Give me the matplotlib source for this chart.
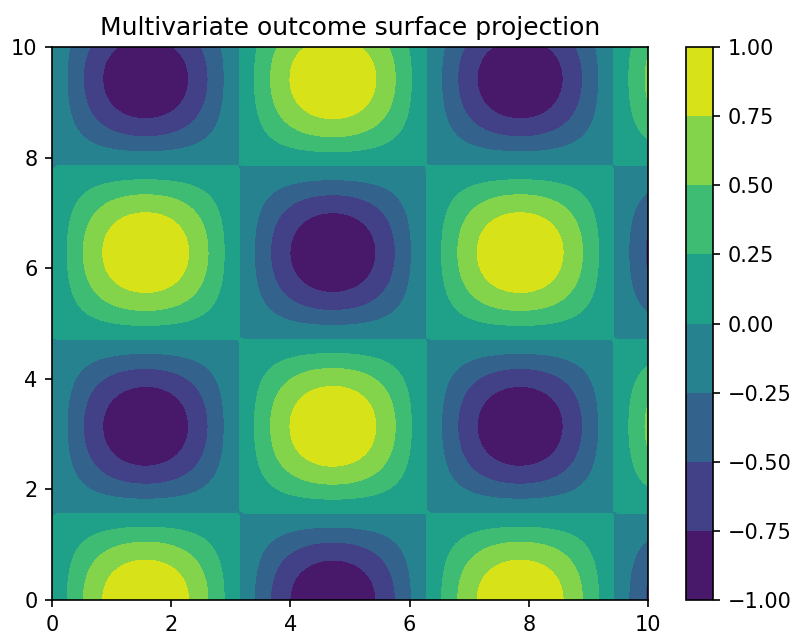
import numpy as np
import matplotlib
matplotlib.use("Agg")
import matplotlib.pyplot as plt

# surface: z = sin(x) * cos(y) on a 100 x 100 grid
x_values = np.linspace(0, 10, 100)
y_values = np.linspace(0, 10, 100)
levels = [-1.0, -0.75, -0.5, -0.25, 0.0, 0.25, 0.5, 0.75, 1.0]
title = "Multivariate outcome surface projection"

X, Y = np.meshgrid(x_values, y_values)
Z = np.sin(X) * np.cos(Y)

fig = plt.figure(figsize=(5.28, 637 / 150), dpi=150)
ax = fig.add_axes([0.0657, 0.0581, 0.7525, 0.868])
cax = fig.add_axes([0.866, 0.0581, 0.034, 0.868])

cs = ax.contourf(X, Y, Z, levels=levels, cmap="viridis")
ax.set_title(title)
ax.set_xticks([0, 2, 4, 6, 8, 10])
ax.set_yticks([0, 2, 4, 6, 8, 10])
fig.colorbar(cs, cax=cax)

fig.savefig("out.png", dpi=150)
